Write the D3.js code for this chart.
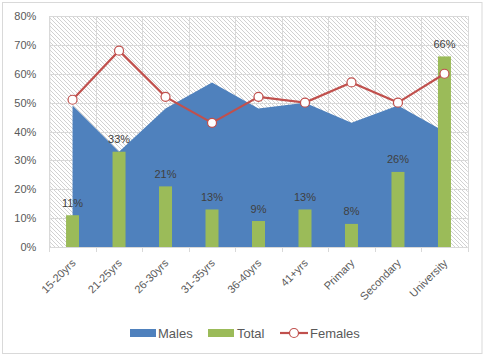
<!DOCTYPE html>
<html><head><meta charset="utf-8">
<script src="https://cdn.jsdelivr.net/npm/d3@7"></script>
<style>body{margin:0;background:#fff}svg{display:block}text{font-family:"Liberation Sans",Arial,sans-serif}</style>
</head><body>
<svg id="c" width="485" height="357"></svg>
<script>
const categories = ["15-20yrs","21-25yrs","26-30yrs","31-35yrs","36-40yrs","41+yrs","Primary","Secondary","University"];
const males   = [0.49,0.33,0.48,0.57,0.48,0.50,0.43,0.49,0.40];
const total   = [0.11,0.33,0.21,0.13,0.09,0.13,0.08,0.26,0.66];
const females = [0.51,0.68,0.52,0.43,0.52,0.50,0.57,0.50,0.60];
const yTicks  = [0,0.1,0.2,0.3,0.4,0.5,0.6,0.7,0.8];

const svg = d3.select("#c");
const L=49.3, R=467.7, T=16, B=247;
const x = d3.scaleBand().domain(categories).range([L,R]);
const y = d3.scaleLinear().domain([0,0.8]).range([B,T]);
const cx = d => x(d)+x.bandwidth()/2;

// outer frame
svg.append("rect").attr("x",2.5).attr("y",2.5).attr("width",479.5).attr("height",351)
  .attr("fill","#fff").attr("stroke","#d9d9d9").attr("stroke-width",1);

// hatch pattern
const defs = svg.append("defs");
const pat = defs.append("pattern").attr("id","hatch").attr("patternUnits","userSpaceOnUse")
  .attr("width",4).attr("height",4);
pat.append("rect").attr("width",4).attr("height",4).attr("fill","#fff");
pat.append("path").attr("d","M0,0L4,4M-1,3L1,5M3,-1L5,1").attr("stroke","#cccccc").attr("stroke-width",0.9);
svg.append("rect").attr("x",L).attr("y",T).attr("width",R-L).attr("height",B-T).attr("fill","url(#hatch)");

// gridlines
const g = svg.append("g");
g.selectAll(".hg").data(yTicks).join("line")
  .attr("x1",L).attr("x2",R).attr("y1",d=>Math.round(y(d))+0.5).attr("y2",d=>Math.round(y(d))+0.5)
  .attr("stroke","#d9d9d9");
const bounds = categories.map(c=>x(c)).concat([R]);
g.selectAll(".vg").data(bounds).join("line")
  .attr("x1",d=>Math.round(d)+0.5).attr("x2",d=>Math.round(d)+0.5).attr("y1",T).attr("y2",B)
  .attr("stroke","#d9d9d9");

// Males area
const area = d3.area().x((d,i)=>cx(categories[i])).y0(y(0)).y1(d=>y(d));
svg.append("path").datum(males).attr("d",area).attr("fill","#4F81BD");

// Total bars
const bw = 13;
svg.selectAll(".bar").data(total).join("rect")
  .attr("x",(d,i)=>cx(categories[i])-bw/2).attr("width",bw)
  .attr("y",d=>y(d)).attr("height",d=>y(0)-y(d)).attr("fill","#9BBB59");
svg.selectAll(".bl").data(total).join("text")
  .attr("x",(d,i)=>cx(categories[i])).attr("y",d=>y(d)-8.5)
  .attr("text-anchor","middle").attr("font-size",11).attr("fill","#404040")
  .text(d=>Math.round(d*100)+"%");

// Females line
const line = d3.line().x((d,i)=>cx(categories[i])).y(d=>y(d));
svg.append("path").datum(females).attr("d",line).attr("fill","none").attr("stroke","#C0504D").attr("stroke-width",2.2);
svg.selectAll(".mk").data(females).join("circle")
  .attr("cx",(d,i)=>cx(categories[i])).attr("cy",d=>y(d)).attr("r",4.5)
  .attr("fill","#fff").attr("stroke","#C0504D").attr("stroke-width",1.2);

// axes
const ya = svg.append("g").attr("transform",`translate(${L},0)`)
  .call(d3.axisLeft(y).tickValues(yTicks).tickFormat(d3.format(".0%")).tickSize(0).tickPadding(13));
ya.select(".domain").attr("stroke","#d9d9d9");
ya.selectAll("text").attr("font-size",11).attr("fill","#595959").attr("font-family","Liberation Sans, Arial, sans-serif");

const xa = svg.append("g").attr("transform",`translate(0,${B})`);
xa.append("line").attr("x1",L).attr("x2",R).attr("y1",0.5).attr("y2",0.5).attr("stroke","#d9d9d9");
xa.selectAll(".tk").data(bounds).join("line")
  .attr("x1",d=>Math.round(d)+0.5).attr("x2",d=>Math.round(d)+0.5).attr("y1",0).attr("y2",5).attr("stroke","#d9d9d9");
xa.selectAll(".xl").data(categories).join("text")
  .attr("transform",d=>`translate(${cx(d)+1},${14}) rotate(-45)`)
  .attr("text-anchor","end").attr("font-size",11).attr("fill","#595959").attr("dy","0.35em")
  .text(d=>d);

// legend
const lg = svg.append("g");
lg.append("rect").attr("x",130).attr("y",329).attr("width",26).attr("height",8).attr("fill","#4F81BD");
lg.append("text").attr("x",158).attr("y",337.5).attr("font-size",13).attr("fill","#595959").text("Males");
lg.append("rect").attr("x",208).attr("y",329).attr("width",26).attr("height",8).attr("fill","#9BBB59");
lg.append("text").attr("x",237).attr("y",337.5).attr("font-size",13).attr("fill","#595959").text("Total");
lg.append("line").attr("x1",280).attr("x2",308).attr("y1",333).attr("y2",333).attr("stroke","#C0504D").attr("stroke-width",2.2);
lg.append("circle").attr("cx",294).attr("cy",333).attr("r",4.5).attr("fill","#fff").attr("stroke","#C0504D").attr("stroke-width",1.2);
lg.append("text").attr("x",310).attr("y",337.5).attr("font-size",13).attr("fill","#595959").text("Females");
</script>
</body></html>
